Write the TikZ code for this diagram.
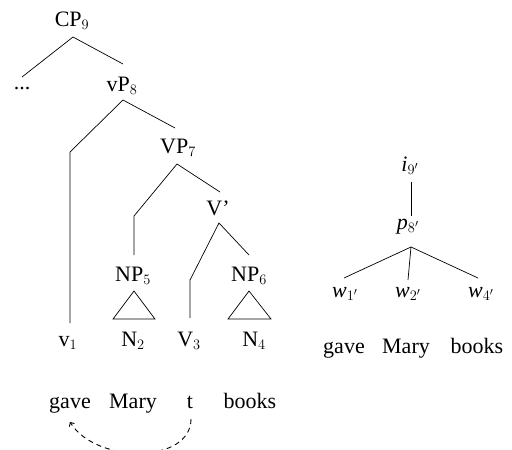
\documentclass[tikz,border=0pt]{standalone}
\usepackage{fontspec}
\setmainfont{Liberation Serif}
\usetikzlibrary{calc,arrows.meta}
\begin{document}
\begin{tikzpicture}[x=1pt,y=-1pt,
  lbl/.style={anchor=base,inner sep=0pt,font=\fontsize{22}{26}\selectfont},
  br/.style={line width=0.7pt},
  mv/.style={line width=0.9pt,dash pattern=on 5pt off 4pt,-{Straight Barb[length=3pt,width=6pt]}}]
\useasboundingbox (0,0) rectangle (512,450);
% left tree labels
\node[lbl] (CP) at (72,26) {CP$_9$};
\node[lbl] (dots) at (22,89) {...};
\node[lbl] (vP) at (122,91) {vP$_8$};
\node[lbl] (VP) at (178,153) {VP$_7$};
\node[lbl] (Vb) at (218,215) {V’};
\node[lbl] (NPa) at (133,281) {NP$_5$};
\node[lbl] (NPb) at (249,281) {NP$_6$};
\node[lbl] (v1) at (68,346) {v$_1$};
\node[lbl] (N2) at (133,346) {N$_2$};
\node[lbl] (V3) at (189,346) {V$_3$};
\node[lbl] (N4) at (254,346) {N$_4$};
\node[lbl] (gave) at (70,408) {gave};
\node[lbl] (mary) at (133,408) {Mary};
\node[lbl] (t) at (190,408) {t};
\node[lbl] (books) at (250,408) {books};
% left tree branches
\draw[br] ($(dots.base)+(0,-12)$) -- ($(CP.base)+(1,11)$) -- ($(vP.base)+(1,-27)$);
\draw[br] ($(v1.base)+(2,-23)$) -- ($(v1.base)+(2,-194)$) -- ($(vP.base)+(1,9)$) -- ($(VP.base)+(-3,-25)$);
\draw[br] ($(NPa.base)+(1,-26)$) -- ($(NPa.base)+(1,-65)$) -- ($(VP.base)+(-1,11)$) -- ($(Vb.base)+(2,-23)$);
\draw[br] ($(V3.base)+(1,-28)$) -- ($(V3.base)+(1,-66)$) -- ($(Vb.base)+(1,8)$) -- ($(NPb.base)+(0,-26)$);
\draw[br] ($(NPa.base)+(1,10)$) -- ($(NPa.base)+(-20,38)$) -- ($(NPa.base)+(22,38)$) -- cycle;
\draw[br] ($(NPb.base)+(0,10)$) -- ($(NPb.base)+(-21,38)$) -- ($(NPb.base)+(22,38)$) -- cycle;
% movement arrow
\draw[mv] ($(t.base)+(1,11)$) .. controls ($(t.base)+(1,56)$) and ($(gave.base)+(26,56)$) .. ($(gave.base)+(0,14)$);
% right tree
\node[lbl] (i9) at (410,171) {\textit{i}$_{9'}$};
\node[lbl] (p8) at (408,229) {\textit{p}$_{8'}$};
\node[lbl] (w1) at (345,297) {\textit{w}$_{1'}$};
\node[lbl] (w2) at (408,297) {\textit{w}$_{2'}$};
\node[lbl] (w4) at (481,297) {\textit{w}$_{4'}$};
\node[lbl] (gave2) at (344,353) {gave};
\node[lbl] (mary2) at (406,353) {Mary};
\node[lbl] (books2) at (477,353) {books};
\draw[br] ($(i9.base)+(1,11)$) -- ($(p8.base)+(3,-13)$);
\draw[br] ($(p8.base)+(3,18)$) -- ($(w1.base)+(-1,-19)$);
\draw[br] ($(p8.base)+(3,18)$) -- ($(w2.base)+(0,-17)$);
\draw[br] ($(p8.base)+(3,18)$) -- ($(w4.base)+(-3,-19)$);
\end{tikzpicture}
\end{document}
